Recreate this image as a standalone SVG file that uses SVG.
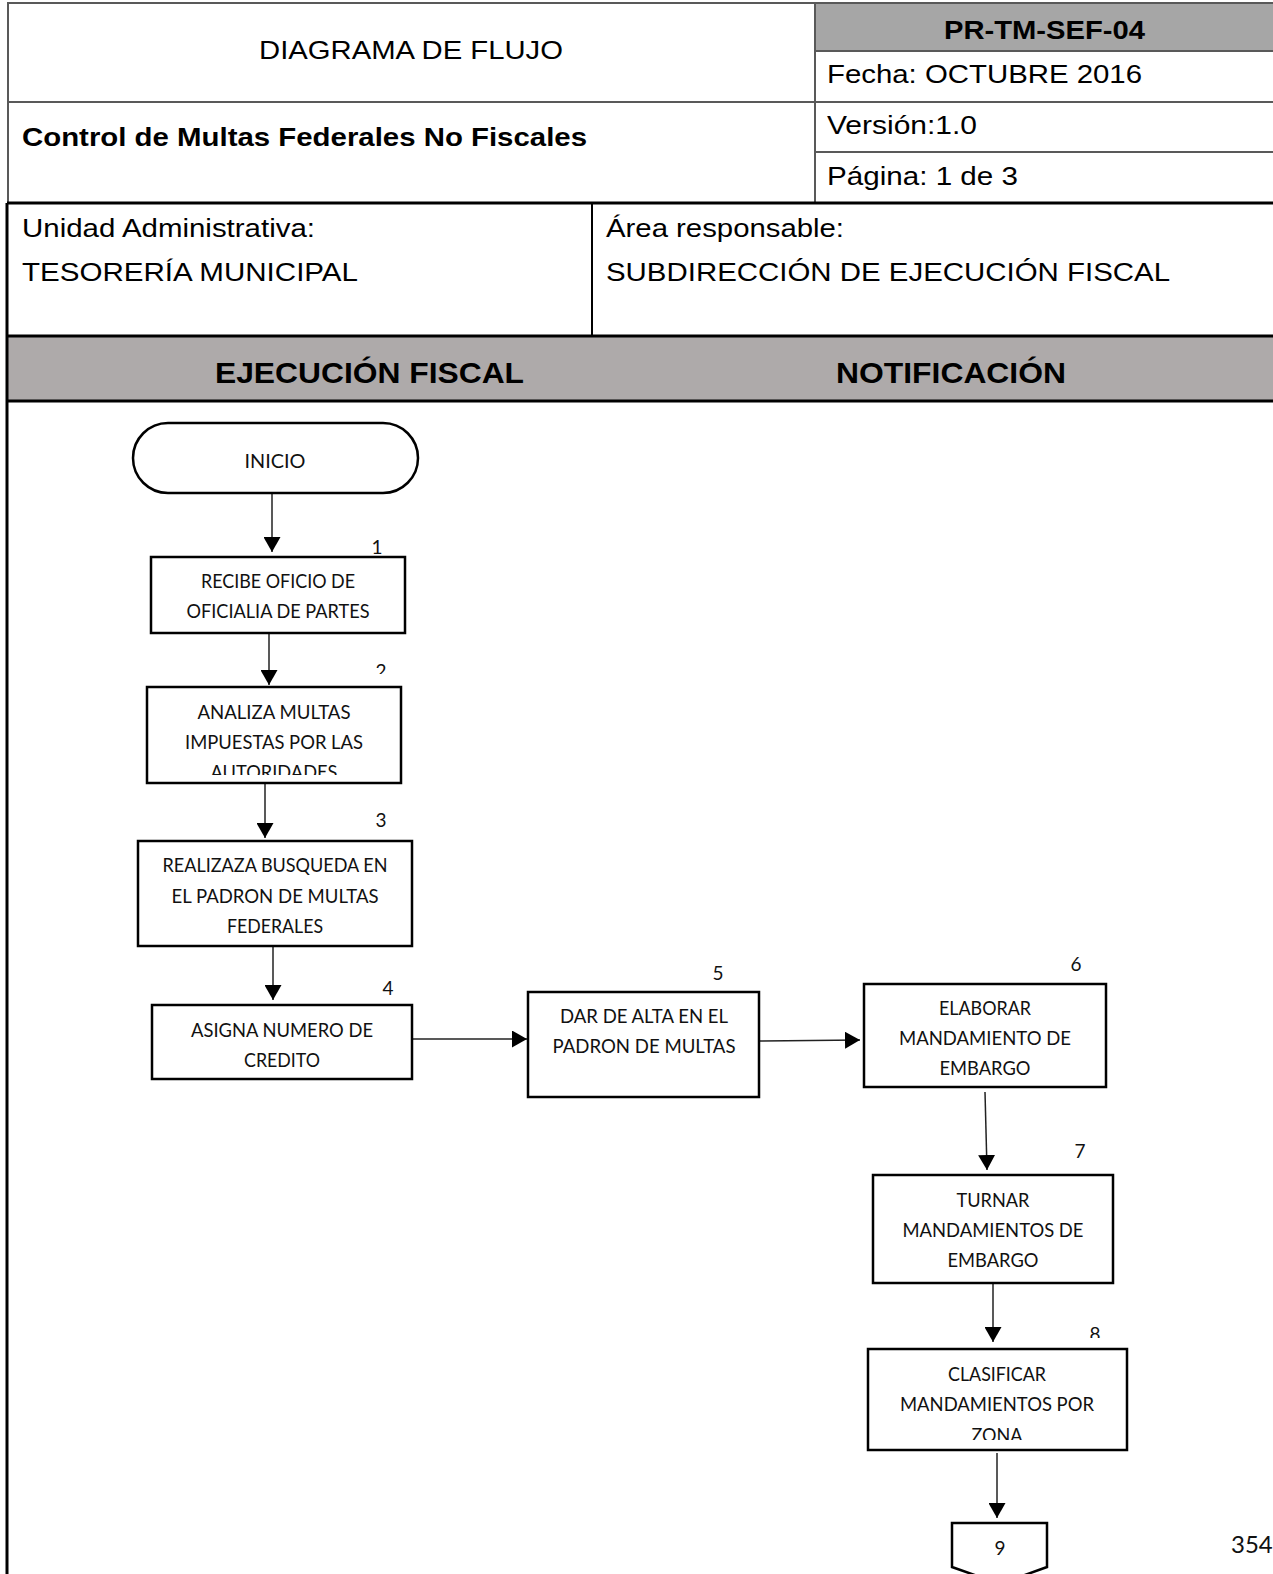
<svg xmlns="http://www.w3.org/2000/svg" width="1273" height="1574" viewBox="0 0 1273 1574">
<style>
.hdr{font-family:"Liberation Sans",Arial,sans-serif;font-size:26px;fill:#000}
.b{font-weight:bold}
.band{font-size:30px}
.gl{stroke:#595959;stroke-width:2;fill:none}
.bl{stroke:#000;stroke-width:3;fill:none}
.box{fill:#fff;stroke:#000;stroke-width:2.5}
.nt{font-family:Lato,"Open Sans",sans-serif;font-size:18.5px;fill:#111;text-anchor:middle}
.num{font-family:Lato,"Open Sans",sans-serif;font-size:19px;fill:#111;text-anchor:middle}
.conn{stroke:#222;stroke-width:1.5;fill:none;marker-end:url(#arr)}
</style>
<defs>
<marker id="arr" markerUnits="userSpaceOnUse" markerWidth="16" markerHeight="17" refX="15" refY="8.5" orient="auto" viewBox="0 0 16 17">
<path d="M0,0 L15,8.5 L0,17 Z" fill="#000"/>
</marker>
<clipPath id="c2"><rect x="0" y="600" width="600" height="74"/></clipPath>
<clipPath id="c2t"><rect x="0" y="690" width="600" height="85"/></clipPath>
<clipPath id="c8"><rect x="900" y="1300" width="300" height="38"/></clipPath>
<clipPath id="c8t"><rect x="860" y="1352" width="300" height="88"/></clipPath>
</defs>
<rect width="1273" height="1574" fill="#fff"/>
<g id="header">
<rect x="815" y="3" width="458" height="48" fill="#a6a6a6"/>
<rect x="8" y="336" width="1265" height="66" fill="#aeaaaa"/>
<line class="gl" x1="7" y1="3" x2="1273" y2="3"/>
<line class="gl" x1="8" y1="3" x2="8" y2="203"/>
<line class="gl" x1="815" y1="3" x2="815" y2="203"/>
<line class="gl" x1="815" y1="51" x2="1273" y2="51"/>
<line class="gl" x1="8" y1="102" x2="1273" y2="102"/>
<line class="gl" x1="815" y1="152" x2="1273" y2="152"/>
<line class="bl" x1="7" y1="203" x2="1273" y2="203"/>
<line stroke="#000" stroke-width="2" x1="592" y1="203" x2="592" y2="336"/>
<line class="bl" x1="7" y1="336" x2="1273" y2="336"/>
<line class="bl" x1="7" y1="401" x2="1273" y2="401"/>
<line class="bl" x1="7" y1="203" x2="7" y2="1574"/>
<text class="hdr" x="259" y="59" textLength="304" lengthAdjust="spacingAndGlyphs">DIAGRAMA DE FLUJO</text>
<text class="hdr b" x="944" y="39" textLength="201" lengthAdjust="spacingAndGlyphs">PR-TM-SEF-04</text>
<text class="hdr" x="827" y="83" textLength="315" lengthAdjust="spacingAndGlyphs">Fecha: OCTUBRE 2016</text>
<text class="hdr b" x="22" y="146" textLength="565" lengthAdjust="spacingAndGlyphs">Control de Multas Federales No Fiscales</text>
<text class="hdr" x="827" y="134" textLength="150" lengthAdjust="spacingAndGlyphs">Versión:1.0</text>
<text class="hdr" x="827" y="185" textLength="191" lengthAdjust="spacingAndGlyphs">Página: 1 de 3</text>
<text class="hdr" x="22" y="237" textLength="293" lengthAdjust="spacingAndGlyphs">Unidad Administrativa:</text>
<text class="hdr" x="22" y="281" textLength="336" lengthAdjust="spacingAndGlyphs">TESORERÍA MUNICIPAL</text>
<text class="hdr" x="606" y="237" textLength="238" lengthAdjust="spacingAndGlyphs">Área responsable:</text>
<text class="hdr" x="606" y="281" textLength="564" lengthAdjust="spacingAndGlyphs">SUBDIRECCIÓN DE EJECUCIÓN FISCAL</text>
<text class="hdr b band" x="215" y="383" textLength="309" lengthAdjust="spacingAndGlyphs">EJECUCIÓN FISCAL</text>
<text class="hdr b band" x="836" y="383" textLength="230" lengthAdjust="spacingAndGlyphs">NOTIFICACIÓN</text>
</g>
<g id="connectors">
<line class="conn" x1="272" y1="493" x2="272" y2="552"/>
<line class="conn" x1="269" y1="633" x2="269" y2="685"/>
<line class="conn" x1="265" y1="783" x2="265" y2="838"/>
<line class="conn" x1="273" y1="946" x2="273" y2="1000"/>
<line class="conn" x1="412" y1="1039" x2="527" y2="1039"/>
<line class="conn" x1="759" y1="1041" x2="860" y2="1040"/>
<line class="conn" x1="985" y1="1092" x2="987" y2="1170"/>
<line class="conn" x1="993" y1="1283" x2="993" y2="1342"/>
<line class="conn" x1="997" y1="1453" x2="997" y2="1518"/>
</g>
<g id="n0">
<rect class="box" x="133" y="423" width="285" height="70" rx="35" ry="35"/>
<text class="nt" x="275" y="468" textLength="61" lengthAdjust="spacingAndGlyphs">INICIO</text>
</g>
<g id="n1">
<text class="num" x="377" y="554">1</text>
<rect class="box" x="151" y="557" width="254" height="76"/>
<text class="nt" x="278" y="588" textLength="154" lengthAdjust="spacingAndGlyphs">RECIBE OFICIO DE</text>
<text class="nt" x="278" y="618" textLength="183" lengthAdjust="spacingAndGlyphs">OFICIALIA DE PARTES</text>
</g>
<g id="n2">
<text class="num" x="381" y="678" clip-path="url(#c2)">2</text>
<rect class="box" x="147" y="687" width="254" height="96"/>
<text class="nt" x="274" y="719" textLength="153" lengthAdjust="spacingAndGlyphs">ANALIZA MULTAS</text>
<text class="nt" x="274" y="749" textLength="178" lengthAdjust="spacingAndGlyphs">IMPUESTAS POR LAS</text>
<text class="nt" x="274" y="779" textLength="127" lengthAdjust="spacingAndGlyphs" clip-path="url(#c2t)">AUTORIDADES</text>
</g>
<g id="n3">
<text class="num" x="381" y="827">3</text>
<rect class="box" x="138" y="841" width="274" height="105"/>
<text class="nt" x="275" y="872" textLength="225" lengthAdjust="spacingAndGlyphs">REALIZAZA BUSQUEDA EN</text>
<text class="nt" x="275" y="903" textLength="207" lengthAdjust="spacingAndGlyphs">EL PADRON DE MULTAS</text>
<text class="nt" x="275" y="933" textLength="96" lengthAdjust="spacingAndGlyphs">FEDERALES</text>
</g>
<g id="n4">
<text class="num" x="388" y="995">4</text>
<rect class="box" x="152" y="1005" width="260" height="74"/>
<text class="nt" x="282" y="1037" textLength="182" lengthAdjust="spacingAndGlyphs">ASIGNA NUMERO DE</text>
<text class="nt" x="282" y="1067" textLength="76" lengthAdjust="spacingAndGlyphs">CREDITO</text>
</g>
<g id="n5">
<text class="num" x="718" y="980">5</text>
<rect class="box" x="528" y="992" width="231" height="105"/>
<text class="nt" x="644" y="1023" textLength="168" lengthAdjust="spacingAndGlyphs">DAR DE ALTA EN EL</text>
<text class="nt" x="644" y="1053" textLength="183" lengthAdjust="spacingAndGlyphs">PADRON DE MULTAS</text>
</g>
<g id="n6">
<text class="num" x="1076" y="971">6</text>
<rect class="box" x="864" y="984" width="242" height="103"/>
<text class="nt" x="985" y="1015" textLength="92" lengthAdjust="spacingAndGlyphs">ELABORAR</text>
<text class="nt" x="985" y="1045" textLength="172" lengthAdjust="spacingAndGlyphs">MANDAMIENTO DE</text>
<text class="nt" x="985" y="1075" textLength="91" lengthAdjust="spacingAndGlyphs">EMBARGO</text>
</g>
<g id="n7">
<text class="num" x="1080" y="1158">7</text>
<rect class="box" x="873" y="1175" width="240" height="108"/>
<text class="nt" x="993" y="1207" textLength="73" lengthAdjust="spacingAndGlyphs">TURNAR</text>
<text class="nt" x="993" y="1237" textLength="181" lengthAdjust="spacingAndGlyphs">MANDAMIENTOS DE</text>
<text class="nt" x="993" y="1267" textLength="91" lengthAdjust="spacingAndGlyphs">EMBARGO</text>
</g>
<g id="n8">
<text class="num" x="1095" y="1341" clip-path="url(#c8)">8</text>
<rect class="box" x="868" y="1349" width="259" height="101"/>
<text class="nt" x="997" y="1381" textLength="98" lengthAdjust="spacingAndGlyphs">CLASIFICAR</text>
<text class="nt" x="997" y="1411" textLength="194" lengthAdjust="spacingAndGlyphs">MANDAMIENTOS POR</text>
<text class="nt" x="997" y="1442" textLength="51" lengthAdjust="spacingAndGlyphs" clip-path="url(#c8t)">ZONA</text>
</g>
<g id="n9">
<path class="box" d="M952,1523 H1047 V1567 L1000,1584 L952,1567 Z"/>
<text class="num" x="1000" y="1555">9</text>
</g>
<text x="1231" y="1553" font-family="Lato,'Open Sans',sans-serif" font-size="24" fill="#111">354</text>
</svg>
